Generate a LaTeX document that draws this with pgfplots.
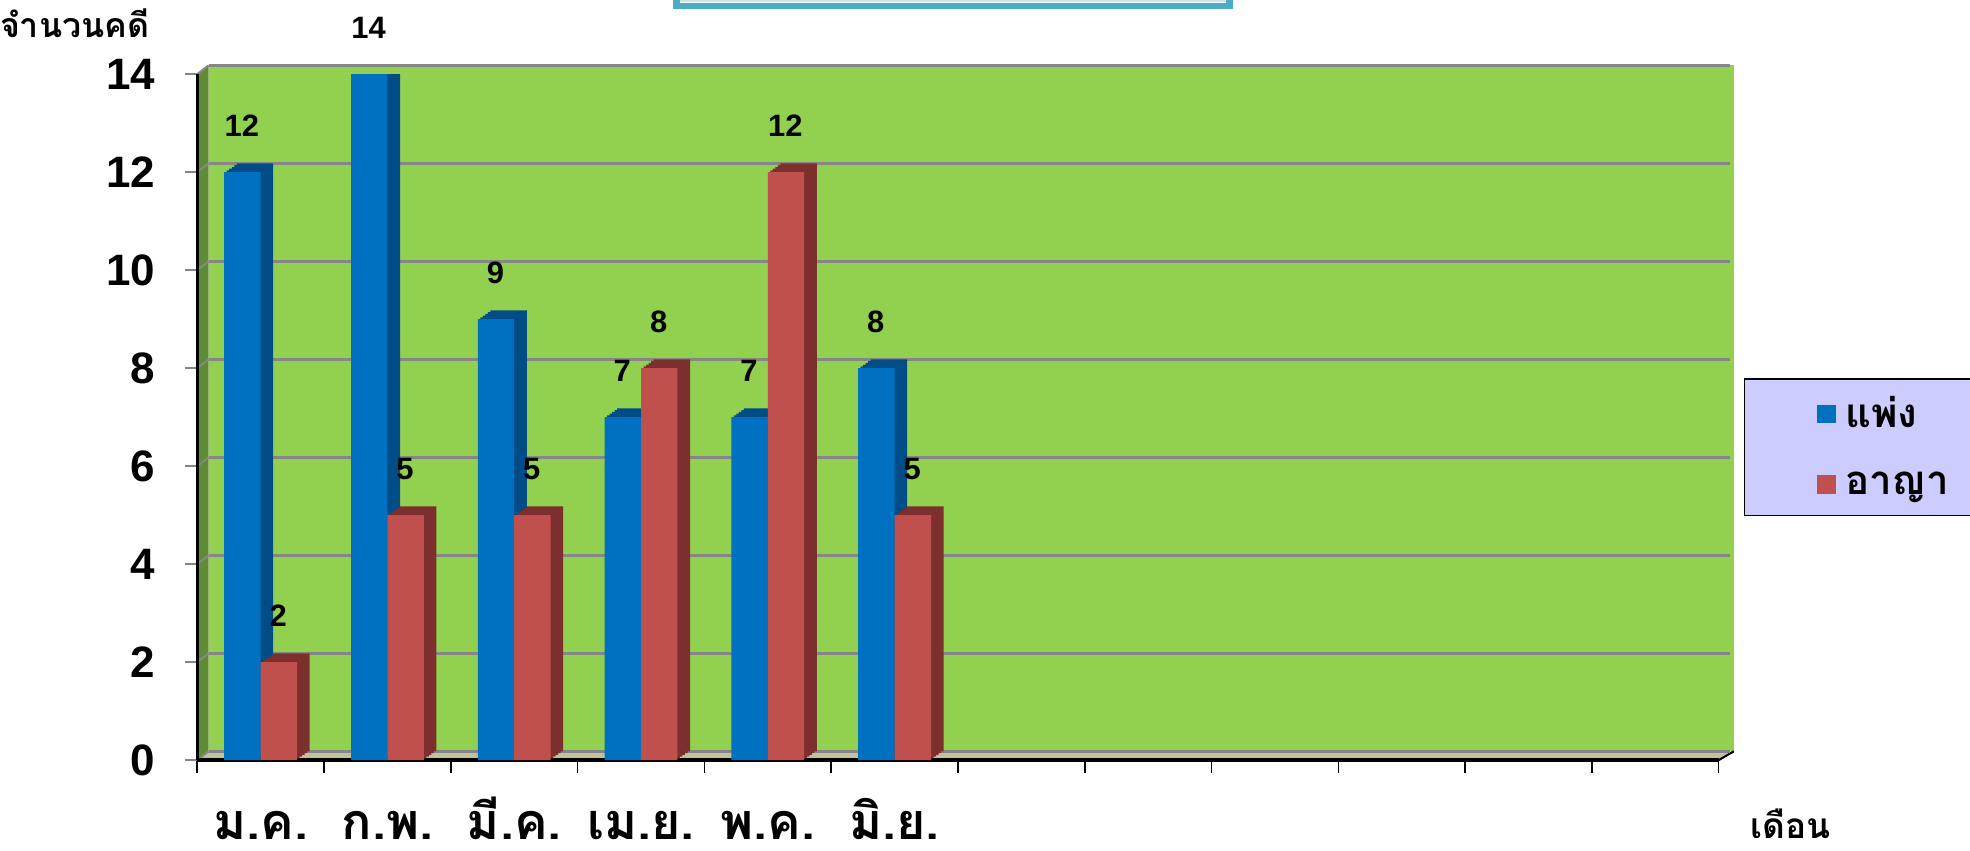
\documentclass[border=0pt]{standalone}
\usepackage{fontspec}
\setmainfont{Liberation Sans}
\newfontfamily\thai[Script=Thai]{Loma}
\usepackage{pgfplots}
\usepackage{pgfplotstable}
\pgfplotsset{compat=1.18}

\definecolor{bblue}{HTML}{0070C0}
\definecolor{bblueside}{HTML}{004C87}
\definecolor{rred}{HTML}{C0504D}
\definecolor{rredside}{HTML}{7D2F2D}
\definecolor{wallgreen}{HTML}{92D050}
\definecolor{sidegreen}{HTML}{5F8B35}
\definecolor{floorbeige}{HTML}{C4C29E}
\definecolor{gridgray}{HTML}{868686}
\definecolor{legendlav}{HTML}{CCCCFF}
\definecolor{boxblue}{HTML}{4BACC6}

% month index, civil cases, criminal cases
\pgfplotstableread{
x civil criminal
0 12 2
1 14 5
2 9 5
3 7 8
4 7 12
5 8 5
}\casedata

% dark copies stacked behind a bar give it its top and side faces
\pgfplotsset{sideface/.style n args={3}{ybar, bar width=14.5pt, bar shift=#1,
    yshift=#2, fill=#3, draw=none, forget plot}}

\begin{document}
\begin{tikzpicture}
\begin{axis}[
    set layers,
    scale only axis,
    width=605.5pt, height=273pt,
    xmin=-0.5, xmax=11.5, ymin=0, ymax=14,
    axis x line*=bottom, axis y line*=left,
    axis line style={black, line width=1.3pt},
    /pgf/number format/assume math mode=true,
    tick align=outside,
    major tick length=5pt,
    xtick={-0.5,0.5,1.5,2.5,3.5,4.5,5.5,6.5,7.5,8.5,9.5,10.5,11.5},
    xticklabels={ม.ค.,ก.พ.,มี.ค.,เม.ย.,พ.ค.,มิ.ย.,,,,,,,},
    xtick style={black, line width=0.6pt},
    xticklabel style={font=\thai\bfseries\fontsize{20}{24}\selectfont,
        inner sep=0pt, anchor=base, xshift=25.25pt, yshift=-26.5pt},
    ytick={0,2,...,14},
    ytick style={gridgray, line width=0.8pt},
    yticklabel style={font=\bfseries\fontsize{17.5}{20}\selectfont,
        anchor=east, xshift=-8.2pt},
    ymajorgrids,
    major grid style={gridgray, line width=1pt, xshift=4.5pt, yshift=3.5pt},
    xlabel={เดือน},
    ylabel={จำนวนคดี},
    every axis x label/.style={at={(rel axis cs:0,0)}, anchor=base west,
        inner sep=0pt, xshift=618pt, yshift=-31pt,
        font=\thai\bfseries\fontsize{14}{17}\selectfont},
    every axis y label/.style={at={(rel axis cs:0,1)}, anchor=base west,
        xshift=-82pt, yshift=14.5pt,
        font=\thai\bfseries\fontsize{13.5}{16}\selectfont},
    legend style={at={(axis description cs:1.0165,0.5568)}, anchor=north west,
        fill=legendlav, draw=black, line width=0.6pt,
        font=\thai\bfseries\fontsize{16}{19}\selectfont,
        inner xsep=29pt, inner ysep=5pt, row sep=12pt,
        cells={anchor=west}},
]

\begin{pgfonlayer}{axis background}
  \fill[sidegreen] (axis cs:-0.5,0) -- (axis cs:-0.5,14)
      -- ([shift={(4.5pt,3.5pt)}]axis cs:-0.5,14)
      -- ([shift={(4.5pt,3.5pt)}]axis cs:-0.5,0) -- cycle;
  \fill[wallgreen] ([shift={(4.5pt,3.5pt)}]axis cs:-0.5,0)
      rectangle ([shift={(6pt,3.5pt)}]axis cs:11.5,14);
  \fill[floorbeige] (axis cs:-0.5,0) -- (axis cs:11.5,0)
      -- ([shift={(6pt,3.5pt)}]axis cs:11.5,0)
      -- ([shift={(4.5pt,3.5pt)}]axis cs:-0.5,0) -- cycle;
  \draw[black, line width=0.8pt] (axis cs:11.5,0) -- ([shift={(6pt,3.5pt)}]axis cs:11.5,0);
  \pgfplotsinvokeforeach{0,2,4,6,8,10,12,14}{
    \draw[gridgray, line width=0.8pt] (axis cs:-0.5,#1) -- ++(4.5pt,3.5pt);
  }
\end{pgfonlayer}

% civil (blue): faces, then front
\addplot[sideface={-2.25pt}{3.5pt}{bblueside}] table[x=x, y=civil] {\casedata};
\addplot[sideface={-3.25pt}{2.8pt}{bblueside}] table[x=x, y=civil] {\casedata};
\addplot[sideface={-4.25pt}{2.1pt}{bblueside}] table[x=x, y=civil] {\casedata};
\addplot[sideface={-5.25pt}{1.4pt}{bblueside}] table[x=x, y=civil] {\casedata};
\addplot[sideface={-6.25pt}{0.7pt}{bblueside}] table[x=x, y=civil] {\casedata};
\addplot[ybar, bar width=14.5pt, bar shift=-7.25pt, fill=bblue, draw=none,
    legend image code/.code={\fill[bblue] (0pt,-3.75pt) rectangle (7.5pt,3.75pt);
        \path (9pt,0pt);},
    nodes near coords,
    every node near coord/.append style={font=\bfseries\fontsize{12.3}{14}\selectfont,
        black, anchor=center, xshift=-7.5pt, yshift=18.5pt}]
    table[x=x, y=civil] {\casedata};
\addlegendentry{แพ่ง}

% criminal (red): faces, then front
\addplot[sideface={12.25pt}{3.5pt}{rredside}] table[x=x, y=criminal] {\casedata};
\addplot[sideface={11.25pt}{2.8pt}{rredside}] table[x=x, y=criminal] {\casedata};
\addplot[sideface={10.25pt}{2.1pt}{rredside}] table[x=x, y=criminal] {\casedata};
\addplot[sideface={9.25pt}{1.4pt}{rredside}] table[x=x, y=criminal] {\casedata};
\addplot[sideface={8.25pt}{0.7pt}{rredside}] table[x=x, y=criminal] {\casedata};
\addplot[ybar, bar width=14.5pt, bar shift=7.25pt, fill=rred, draw=none,
    legend image code/.code={\fill[rred] (0pt,-3.75pt) rectangle (7.5pt,3.75pt);
        \path (9pt,0pt);},
    nodes near coords,
    every node near coord/.append style={font=\bfseries\fontsize{12.3}{14}\selectfont,
        black, anchor=center, xshift=7pt, yshift=18.5pt}]
    table[x=x, y=criminal] {\casedata};
\addlegendentry{อาญา}
\end{axis}

% title box, only its lower edge shows at the top of the page
\draw[boxblue, line width=2.5pt] (190.75pt,312pt) -- (190.75pt,300.25pt)
    -- (410.75pt,300.25pt) -- (410.75pt,312pt);
\draw[white!70!boxblue, line width=0.6pt] (192pt,302.2pt) -- (409.5pt,302.2pt);

\pgfresetboundingbox
\path (-78.5pt,-36pt) rectangle (705.5pt,302.5pt);
\end{tikzpicture}
\end{document}
